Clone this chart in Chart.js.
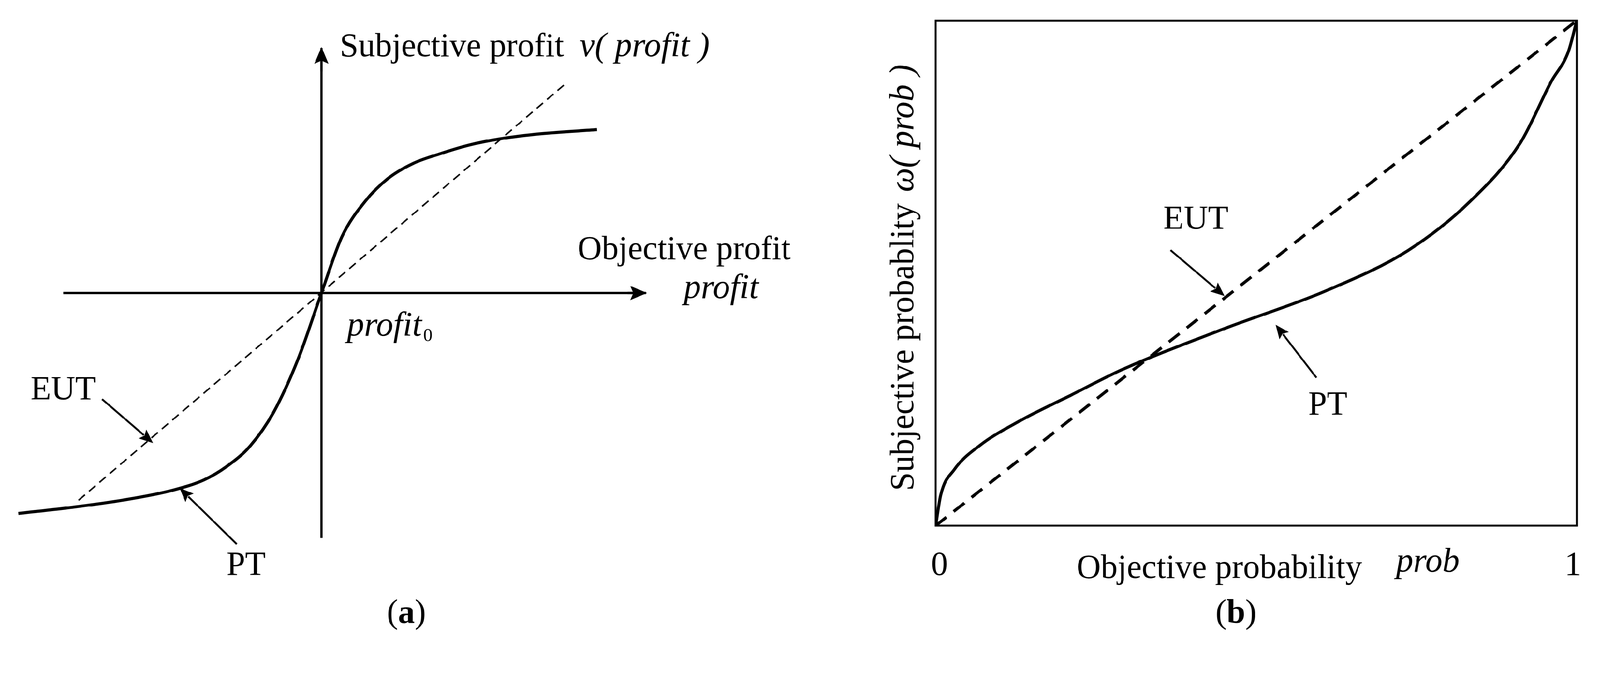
<!DOCTYPE html>
<html>
<head>
<meta charset="utf-8">
<script src="https://cdn.jsdelivr.net/npm/chart.js@4/dist/chart.umd.min.js"></script>
<style>
  html, body { margin: 0; background: #fff; overflow: hidden; }
  #wrap { width: 4205px; height: 1735px; position: relative; transform-origin: 0 0; }
  canvas { position: absolute; top: 0; }
</style>
</head>
<body>
<div id="wrap">
<canvas id="chartA" width="2100" height="1735" style="left:0"></canvas>
<canvas id="chartB" width="2005" height="1735" style="left:2200px"></canvas>
</div>
<script>
// panel (a): coordinates relative to the origin profit0
const ptProfitX = [-297, -245, -195, -145, -115, -93, -70, -47, -23, 0, 20, 43, 65, 90, 115, 145, 175, 215, 270];
const ptProfitY = [-216, -210, -203, -193, -183, -170, -150, -117, -65, 0, 55, 90, 112, 127, 136, 145, 151, 156, 160];
const eutProfitX = [-238, 238];
const eutProfitY = [-203, 204];
const xAxisA = [-253, 318];
const yAxisA = [-240, 240];

// panel (b): probability weighting
const probX = [0, 0.008, 0.029, 0.068, 0.132, 0.212, 0.291, 0.45, 0.609, 0.737, 0.832, 0.912, 0.96, 0.987, 1];
const probW = [0, 0.061, 0.111, 0.158, 0.208, 0.259, 0.309, 0.39, 0.465, 0.545, 0.64, 0.758, 0.879, 0.939, 1];
const eutProb = [0, 1];
const probTicks = ["0", "1"];

const K = 2.682;
const SERIF = "'Liberation Serif', 'DejaVu Serif', serif";
const FONT = "88px " + SERIF;
const IFONT = "italic 90px " + SERIF;

const wrap = document.getElementById("wrap");
const fit = Math.min(window.innerWidth / 4205, window.innerHeight / 1735);
if (fit > 0 && Math.abs(fit - 1) > 0.002) wrap.style.transform = `scale(${fit})`;

function pts(xs, ys) { return xs.map((x, i) => ({ x, y: ys[i] })); }

function arrow(ctx, x1, y1, x2, y2, lw, head) {
  const a = Math.atan2(y2 - y1, x2 - x1);
  ctx.save();
  ctx.strokeStyle = "#000";
  ctx.fillStyle = "#000";
  ctx.lineWidth = lw;
  ctx.setLineDash([]);
  ctx.beginPath();
  ctx.moveTo(x1, y1);
  ctx.lineTo(x2 - Math.cos(a) * head * 0.8, y2 - Math.sin(a) * head * 0.8);
  ctx.stroke();
  ctx.beginPath();
  ctx.moveTo(x2, y2);
  ctx.lineTo(x2 - head * Math.cos(a - 0.4), y2 - head * Math.sin(a - 0.4));
  ctx.lineTo(x2 - head * 0.75 * Math.cos(a), y2 - head * 0.75 * Math.sin(a));
  ctx.lineTo(x2 - head * Math.cos(a + 0.4), y2 - head * Math.sin(a + 0.4));
  ctx.closePath();
  ctx.fill();
  ctx.restore();
}

function text(ctx, s, x, y, font, align) {
  ctx.font = font;
  ctx.fillStyle = "#000";
  ctx.textAlign = align || "left";
  ctx.textBaseline = "alphabetic";
  ctx.fillText(s, x, y);
}

const lineDs = (data, width, dash) => ({
  data, showLine: true, borderColor: "#000", borderWidth: width,
  borderDash: dash || [], pointRadius: 0, cubicInterpolationMode: "monotone", fill: false,
});

const baseOptions = {
  responsive: false, devicePixelRatio: 1, animation: false,
  plugins: { legend: { display: false }, tooltip: { enabled: false } },
};

// ---------- panel (a) ----------
const annoA = {
  id: "annoA",
  afterDatasetsDraw(chart) {
    const { ctx, scales: { x, y } } = chart;
    const P = (px, py) => [x.getPixelForValue(px - 315), y.getPixelForValue(287 - py)];
    // axis arrow heads
    let a = P(615, 287), b = P(634, 287);
    arrow(ctx, a[0], a[1], b[0], b[1], 6, 48);
    a = P(315, 70); b = P(315, 46);
    arrow(ctx, a[0], a[1], b[0], b[1], 6, 48);
    // pointers
    a = P(100, 391); b = P(150, 434);
    arrow(ctx, a[0], a[1], b[0], b[1], 5, 40);
    a = P(232, 533); b = P(176, 478);
    arrow(ctx, a[0], a[1], b[0], b[1], 5, 40);
    let t = P(333, 55); text(ctx, "Subjective profit", t[0], t[1], FONT);
    t = P(568, 55); text(ctx, "v( profit )", t[0], t[1], IFONT);
    t = P(566, 254); text(ctx, "Objective profit", t[0], t[1], FONT);
    t = P(670, 292); text(ctx, "profit", t[0], t[1], IFONT);
    t = P(340, 329); text(ctx, "profit", t[0], t[1], IFONT);
    const w = ctx.measureText("profit").width;
    text(ctx, "0", t[0] + w + 4, t[1] + 14, "48px " + SERIF);
    t = P(30, 391); text(ctx, "EUT", t[0], t[1], FONT);
    t = P(222, 563); text(ctx, "PT", t[0], t[1], FONT);
    t = P(390, 610); text(ctx, "(", t[0], t[1], FONT, "right");
    text(ctx, "a", t[0], t[1], "bold 88px " + SERIF);
    text(ctx, ")", t[0] + ctx.measureText("a").width, t[1], FONT);
  },
};

new Chart(document.getElementById("chartA"), {
  type: "scatter",
  data: {
    datasets: [
      lineDs(pts(xAxisA, [0, 0]), 6),
      lineDs(pts([0, 0], yAxisA), 6),
      lineDs(pts(eutProfitX, eutProfitY), 4, [22, 14]),
      lineDs(pts(ptProfitX, ptProfitY), 8),
    ],
  },
  options: {
    ...baseOptions,
    layout: { padding: 0 },
    scales: {
      x: { type: "linear", display: false, min: -315, max: 2100 / K - 315 },
      y: { type: "linear", display: false, min: 287 - 1735 / K, max: 287 },
    },
  },
  plugins: [annoA],
});

// ---------- panel (b) ----------
const annoB = {
  id: "annoB",
  afterDatasetsDraw(chart) {
    const { ctx, chartArea: ca, scales: { x } } = chart;
    ctx.save();
    ctx.strokeStyle = "#000";
    ctx.lineWidth = 5;
    ctx.strokeRect(ca.left, ca.top, ca.right - ca.left, ca.bottom - ca.top);
    ctx.restore();
    const P = (px, py) => [px * K - 2200, py * K];
    text(ctx, probTicks[0], x.getPixelForValue(0) + 10, P(0, 563)[1], FONT, "center");
    text(ctx, probTicks[1], x.getPixelForValue(1) - 10, P(0, 563)[1], FONT, "center");
    let t = P(1055, 566); text(ctx, "Objective probability", t[0], t[1], FONT);
    t = P(1368, 560); text(ctx, "prob", t[0], t[1], IFONT);
    t = P(1140, 224); text(ctx, "EUT", t[0], t[1], FONT);
    t = P(1282, 406); text(ctx, "PT", t[0], t[1], FONT);
    let a = P(1147, 245), b = P(1200, 290);
    arrow(ctx, a[0], a[1], b[0], b[1], 5, 40);
    a = P(1290, 370); b = P(1250, 318);
    arrow(ctx, a[0], a[1], b[0], b[1], 5, 40);
    // rotated y labels
    ctx.save();
    t = P(895, 340);
    ctx.translate(t[0], t[1]);
    ctx.rotate(-Math.PI / 2);
    text(ctx, "Subjective probablity", 0, 0, FONT, "center");
    text(ctx, "ω( prob )", 575, 0, IFONT, "center");
    ctx.restore();
    t = P(1202, 610);
    text(ctx, "(", t[0], t[1], FONT, "right");
    text(ctx, "b", t[0], t[1], "bold 88px " + SERIF);
    text(ctx, ")", t[0] + ctx.measureText("b").width, t[1], FONT);
  },
};

new Chart(document.getElementById("chartB"), {
  type: "scatter",
  data: {
    datasets: [
      lineDs(pts(eutProb, eutProb), 8, [36, 24]),
      lineDs(pts(probX, probW), 8),
    ],
  },
  options: {
    ...baseOptions,
    layout: { padding: { left: 259, right: 61, top: 54, bottom: 354 } },
    scales: {
      x: { type: "linear", display: false, min: 0, max: 1 },
      y: { type: "linear", display: false, min: 0, max: 1 },
    },
  },
  plugins: [annoB],
});
</script>
</body>
</html>
